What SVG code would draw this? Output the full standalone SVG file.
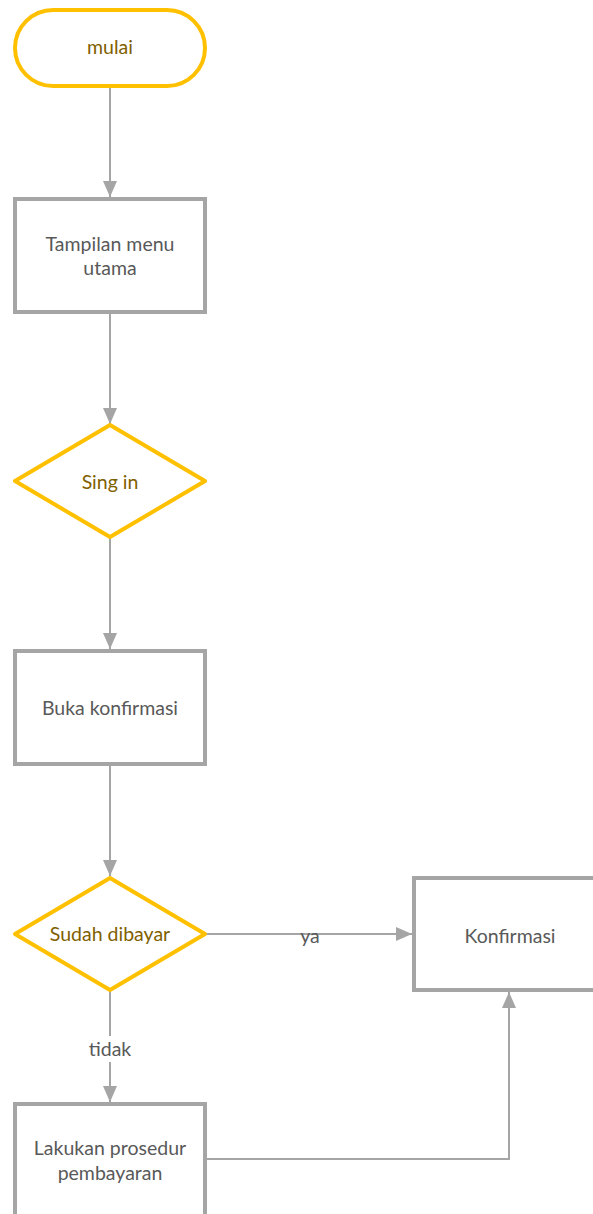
<svg xmlns="http://www.w3.org/2000/svg" width="593" height="1214" viewBox="0 0 593 1214">
  <style>
    .term { fill: #fff; stroke: #FFC000; stroke-width: 4; }
    .dec { fill: #fff; stroke: #FFC000; stroke-width: 4; stroke-linejoin: round; }
    .proc { fill: #fff; stroke: #A5A5A5; stroke-width: 4; }
    .conn { fill: none; stroke: #A5A5A5; stroke-width: 2; }
    text { font-family: "Lato", "Liberation Sans", sans-serif; font-size: 19.5px; text-anchor: middle; }
    .gold { fill: #7F6000; }
    .grey { fill: #595959; }
  </style>
  <defs>
    <marker id="arrow" viewBox="0 0 16 14" refX="16" refY="7" markerWidth="16" markerHeight="14" markerUnits="userSpaceOnUse" orient="auto">
      <path d="M0,0 L16,7 L0,14 Z" fill="#A5A5A5"/>
    </marker>
  </defs>
  <rect width="593" height="1214" fill="#fff"/>

  <g id="connectors">
    <line class="conn" x1="110" y1="86" x2="110" y2="197" marker-end="url(#arrow)"/>
    <line class="conn" x1="110" y1="313" x2="110" y2="424" marker-end="url(#arrow)"/>
    <line class="conn" x1="110" y1="538" x2="110" y2="649" marker-end="url(#arrow)"/>
    <line class="conn" x1="110" y1="765" x2="110" y2="876" marker-end="url(#arrow)"/>
    <line class="conn" x1="206" y1="934" x2="412" y2="934" marker-end="url(#arrow)"/>
    <line class="conn" x1="110" y1="991" x2="110" y2="1102" marker-end="url(#arrow)"/>
    <polyline class="conn" points="207,1159 509,1159 509,992" marker-end="url(#arrow)"/>
    <rect x="84" y="1036" width="52" height="26" fill="#fff"/>
    <text class="grey" x="110" y="1056">tidak</text>
    <text class="grey" x="310" y="943">ya</text>
  </g>

  <g id="mulai">
    <rect class="term" x="15" y="10" width="190" height="76" rx="38"/>
    <text class="gold" x="110" y="54">mulai</text>
  </g>

  <g id="menu-utama">
    <rect class="proc" x="15" y="199" width="190" height="113"/>
    <text class="grey" x="110" y="251">Tampilan menu</text>
    <text class="grey" x="110" y="275">utama</text>
  </g>

  <g id="sing-in">
    <polygon class="dec" points="110,425 205,481 110,537 15,481"/>
    <text class="gold" x="110" y="489">Sing in</text>
  </g>

  <g id="buka-konfirmasi">
    <rect class="proc" x="15" y="651" width="190" height="113"/>
    <text class="grey" x="110" y="715">Buka konfirmasi</text>
  </g>

  <g id="sudah-dibayar">
    <polygon class="dec" points="110,878 205,934 110,990 15,934"/>
    <text class="gold" x="110" y="941">Sudah dibayar</text>
  </g>

  <g id="konfirmasi">
    <rect class="proc" x="414" y="878" width="200" height="112"/>
    <text class="grey" x="510" y="943">Konfirmasi</text>
  </g>

  <g id="prosedur-pembayaran">
    <rect class="proc" x="15" y="1104" width="190" height="120"/>
    <text class="grey" x="110" y="1155">Lakukan prosedur</text>
    <text class="grey" x="110" y="1180">pembayaran</text>
  </g>
</svg>
